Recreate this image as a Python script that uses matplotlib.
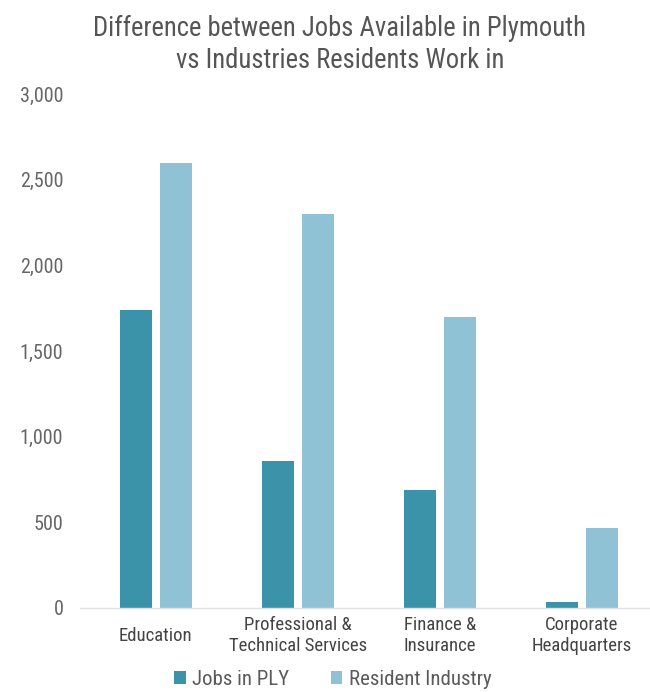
import matplotlib
matplotlib.use('Agg')
import matplotlib.pyplot as plt
from matplotlib.ticker import FuncFormatter
import numpy as np

categories = ['Education', 'Professional &\nTechnical Services', 'Finance &\nInsurance',
              'Corporate\nHeadquarters']
jobs_in_ply = [1740, 860, 690, 35]
resident_industry = [2600, 2300, 1700, 465]
y_ticks = [0, 500, 1000, 1500, 2000, 2500, 3000]

DARK = '#3b93a9'
LIGHT = '#8fc2d5'
COND = ['Roboto Condensed', 'Roboto', 'DejaVu Sans']

fig = plt.figure(figsize=(6.5, 6.92), dpi=100)
fig.patch.set_facecolor('white')
ax = fig.add_axes([0.123, 0.1214, 0.877, 0.7428])

x = np.arange(len(categories))
w = 0.225
off = 0.14
ax.bar(x - off, jobs_in_ply, width=w, color=DARK, label='Jobs in PLY')
ax.bar(x + off, resident_industry, width=w, color=LIGHT, label='Resident Industry')

ax.set_xlim(-0.535, 3.479)
ax.set_ylim(0, 3000)
ax.set_yticks(y_ticks)
ax.yaxis.set_major_formatter(FuncFormatter(lambda v, p: f'{int(v):,}'))
ax.set_xticks(x)
ax.set_xticklabels(categories, family=COND, fontsize=13.5, color='#444444',
                   linespacing=1.2, va='center')

for s in ['top', 'right', 'left']:
    ax.spines[s].set_visible(False)
ax.spines['bottom'].set_color('#e2e2e2')
ax.spines['bottom'].set_linewidth(1)
ax.tick_params(axis='both', length=0)
ax.tick_params(axis='y', pad=12, labelsize=14.5, labelcolor='#666666')
ax.tick_params(axis='x', pad=20)
for lab in ax.get_yticklabels():
    lab.set_family(COND)

fig.text(0.523, 0.936, 'Difference between Jobs Available in Plymouth\nvs Industries Residents Work in',
         ha='center', va='center', fontsize=19.2, color='#555555', family=COND,
         linespacing=1.25)

leg = fig.legend(loc='center', bbox_to_anchor=(0.512, 0.018), ncol=2, frameon=False,
                 prop={'family': COND, 'size': 15}, handlelength=0.55, handleheight=0.55,
                 handletextpad=0.3, columnspacing=2.0)
for t in leg.get_texts():
    t.set_color('#5a5a5a')

plt.savefig('out.png', dpi=100, facecolor=fig.get_facecolor())
plt.close(fig)
